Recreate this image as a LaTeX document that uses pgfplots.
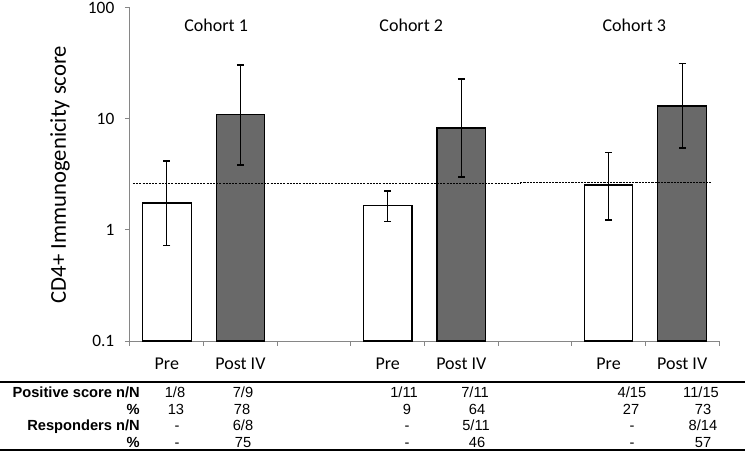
\documentclass[border=0pt]{standalone}
\usepackage{pgfplots}
\pgfplotsset{compat=1.18}
\usepackage{fontspec}
\setmainfont{Carlito}
\newfontfamily\arial{Liberation Sans}
\definecolor{axgray}{HTML}{868686}
\definecolor{postfill}{HTML}{696969}
\begin{document}
\begin{tikzpicture}
\begin{axis}[
  scale only axis, width=441.75pt, height=249.75pt,
  at={(0,0)}, anchor=south west,
  ymode=log, ymin=0.1, ymax=100, log origin=infty,
  xmin=-0.5, xmax=7.5,
  axis x line*=bottom, axis y line*=left,
  axis line style={axgray, line width=0.75pt},
  xtick={0,1,3,4,6,7},
  xticklabels={Pre,Post IV,Pre,Post IV,Pre,Post IV},
  minor xtick={-0.5,0.5,...,7.5},
  ytick={0.1,1,10,100}, yticklabels={0.1,1,10,100},
  tick style={axgray, line width=0.75pt},
  major x tick style={draw=none},
  minor y tick style={draw=none},
  tick align=outside, major tick length=3.75pt, minor tick length=3.75pt,
  tick label style={font=\fontsize{13}{15}\selectfont},
  yticklabel style={xshift=-4.5pt},
  xticklabel style={anchor=base, yshift=-17.6pt, font=\fontsize{13.5}{15}\selectfont},
  ylabel={CD4+ Immunogenicity score},
  ylabel style={at={(rel axis cs:0,0.5)}, anchor=center, yshift=52.5pt, font=\fontsize{17}{19}\selectfont},
  clip=false,
]
% Pre bars
\addplot[ybar, bar width=0.66, bar shift=0pt, draw=black, fill=white, line width=0.9pt,
  error bars/.cd, y dir=both, y explicit,
  error bar style={black, line width=1pt},
  error mark options={rotate=90, mark size=2.6pt, black, line width=1pt}]
  coordinates {
    (0,1.75) += (0,2.44) -= (0,1.02)
    (3,1.65) += (0,0.60) -= (0,0.45)
    (6,2.54) += (0,2.46) -= (0,1.31)
  };
% Post IV bars
\addplot[ybar, bar width=0.66, bar shift=0pt, draw=black, fill=postfill, line width=0.9pt,
  error bars/.cd, y dir=both, y explicit,
  error bar style={black, line width=1pt},
  error mark options={rotate=90, mark size=2.6pt, black, line width=1pt}]
  coordinates {
    (1,10.9) += (0,19.7) -= (0,7.05)
    (4,8.3)  += (0,14.6) -= (0,5.3)
    (7,13.1) += (0,18.7) -= (0,7.62)
  };
% threshold line
\addplot[black, line width=1pt, dash pattern=on 1.6pt off 0.8pt]
  coordinates {(-0.46,2.64) (4.8,2.64)};
\addplot[black, line width=1pt, dash pattern=on 1.6pt off 0.8pt]
  coordinates {(4.8,2.69) (7.39,2.69)};
\node[anchor=base, font=\fontsize{13.5}{15}\selectfont] at (axis cs:0.67,62) {Cohort 1};
\node[anchor=base, font=\fontsize{13.5}{15}\selectfont] at (axis cs:3.32,62) {Cohort 2};
\node[anchor=base, font=\fontsize{13.5}{15}\selectfont] at (axis cs:6.35,62) {Cohort 3};
\end{axis}
\begin{scope}[x=0.75pt,y=-0.75pt,shift={(-97.5pt,255.75pt)}]
  \draw[black, line width=1.1pt] (0,382) -- (745,382);
  \draw[black, line width=1.1pt] (0,450) -- (745,450);
  \begin{scope}[every node/.style={inner sep=0pt, font=\arial\fontsize{11}{13}\selectfont}]
    \node[anchor=base east, font=\arial\bfseries\fontsize{11}{13}\selectfont] at (140,397) {Positive score n/N};
    \node[anchor=base east, font=\arial\bfseries\fontsize{11}{13}\selectfont] at (140,414) {\%};
    \node[anchor=base east, font=\arial\bfseries\fontsize{11}{13}\selectfont] at (140,430) {Responders n/N};
    \node[anchor=base east, font=\arial\bfseries\fontsize{11}{13}\selectfont] at (140,447) {\%};
    % row 1
    \node[anchor=base] at (175,397) {1/8};
    \node[anchor=base] at (243,397) {7/9};
    \node[anchor=base] at (404,397) {1/11};
    \node[anchor=base] at (475,397) {7/11};
    \node[anchor=base] at (632,397) {4/15};
    \node[anchor=base] at (701,397) {11/15};
    % row 2
    \node[anchor=base] at (176,414) {13};
    \node[anchor=base] at (242,414) {78};
    \node[anchor=base] at (407,414) {9};
    \node[anchor=base] at (477,414) {64};
    \node[anchor=base] at (631,414) {27};
    \node[anchor=base] at (703,414) {73};
    % row 3
    \node[anchor=base] at (177,430) {-};
    \node[anchor=base] at (243,430) {6/8};
    \node[anchor=base] at (407,430) {-};
    \node[anchor=base] at (476,430) {5/11};
    \node[anchor=base] at (632,430) {-};
    \node[anchor=base] at (703,430) {8/14};
    % row 4
    \node[anchor=base] at (177,447) {-};
    \node[anchor=base] at (243,447) {75};
    \node[anchor=base] at (407,447) {-};
    \node[anchor=base] at (477,447) {46};
    \node[anchor=base] at (632,447) {-};
    \node[anchor=base] at (703,447) {57};
  \end{scope}
  \pgfresetboundingbox
  \useasboundingbox (0,0) rectangle (745,453);
\end{scope}
\end{tikzpicture}
\end{document}
